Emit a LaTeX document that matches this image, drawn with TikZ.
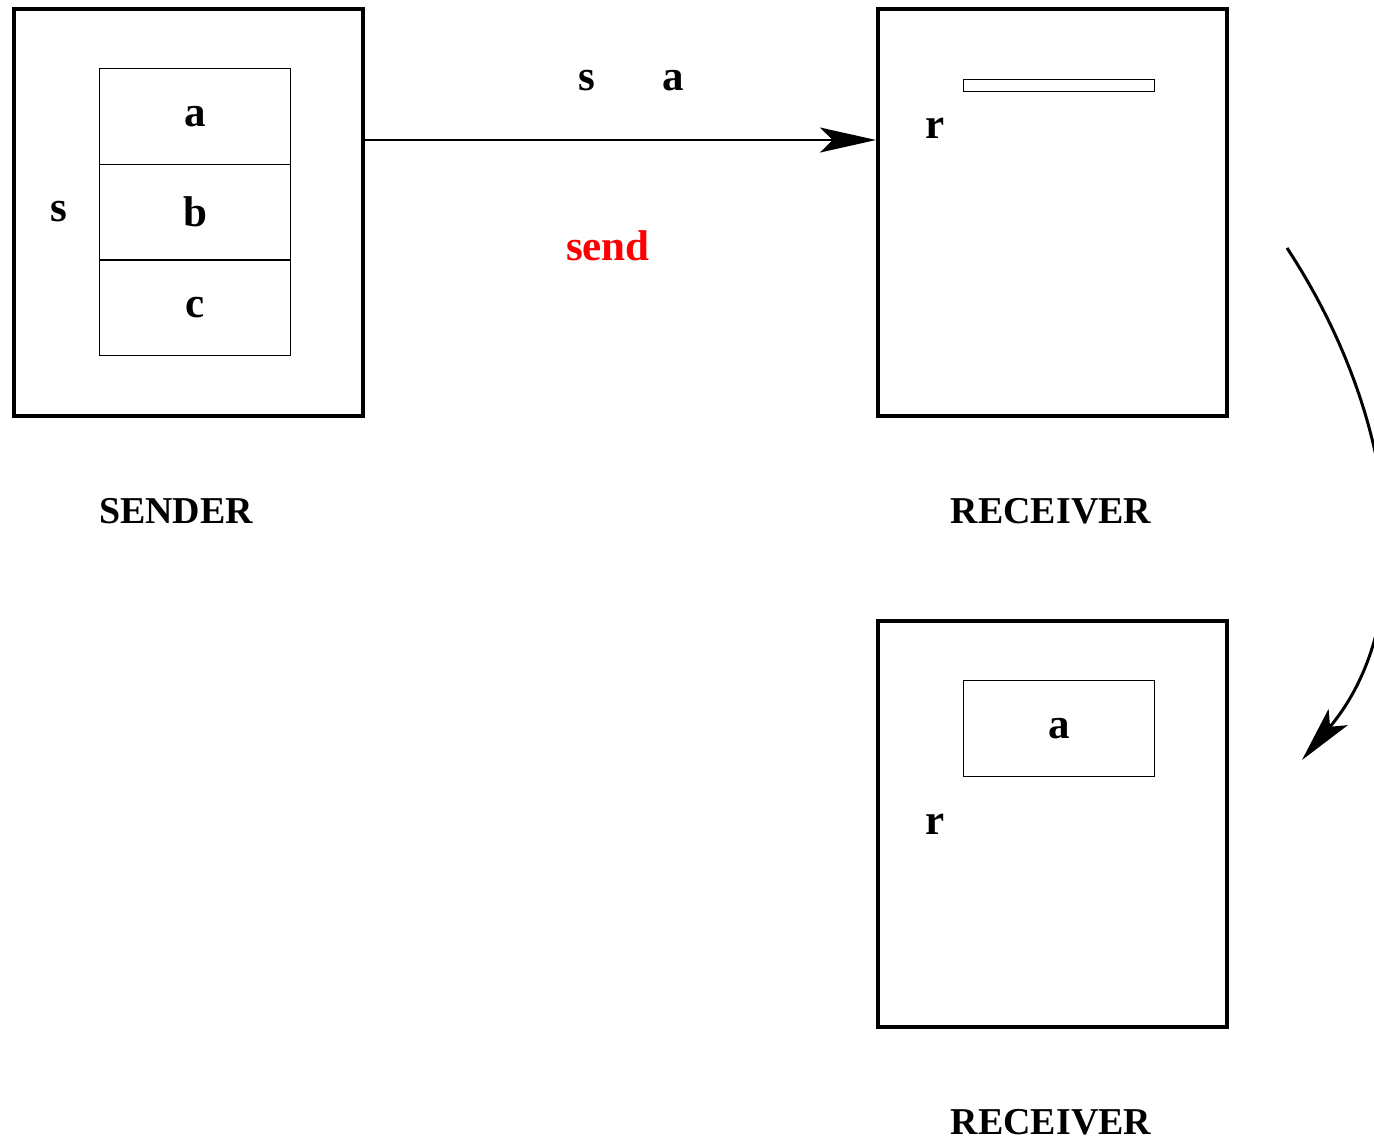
\documentclass[tikz,border=0pt]{standalone}
\usepackage{fontspec}
\setmainfont{Liberation Serif}
\usepackage{tikz}
\usetikzlibrary{arrows.meta,positioning,calc}
\tikzset{outerbox/.style={draw, line width=0.08cm, minimum width=6.98cm, minimum height=8.14cm, inner sep=0pt},
cell/.style={draw, line width=0.02cm, minimum width=3.84cm, minimum height=1.92cm, inner sep=0pt},
lbl/.style={inner sep=0pt, font=\fontsize{24.5}{29}\selectfont\bfseries},
caption/.style={inner sep=0pt, font=\fontsize{21.6}{26}\selectfont\bfseries},
flow/.style={line width=0.04cm, -{Stealth[length=1.12cm, width=0.5cm, inset=0.25cm]}}}

\begin{document}
\begin{tikzpicture}[x=0.02cm, y=-0.02cm]
        \useasboundingbox (0,0) rectangle (1374,1142);
        % boxes
        \node[outerbox] (sender) at (188.5, 212.5) {};
        \node[outerbox] (rec1) at (1052.5, 212.5) {};
        \node[outerbox] (rec2) at (1052.5, 824) {};

        \node[cell, lbl] (ca) at (195, 116.5) {a};
        \node[cell, lbl] (cb) at (195, 212) {b};
        \node[cell, lbl] (cc) at (195, 308) {c};

        \node[draw, line width=0.02cm, minimum width=3.84cm, minimum height=0.24cm, inner sep=0pt] (slot) at (1059, 86) {};
        \node[cell, lbl] (got) at (1059, 728.5) {a};

        % labels
        \node[lbl] (s0) at (59, 212) {s};
        \node[lbl] (s1) at (587, 81) {s};
        \node[lbl] (a1) at (673, 81) {a};
        \node[lbl, text=red] (send) at (608, 246) {send};
        \node[lbl] (r1) at (935, 128) {r};
        \node[lbl] (r2) at (935, 824) {r};
        \node[caption] (sname) at (176, 511) {SENDER};
        \node[caption] (rname1) at (1051, 511) {RECEIVER};
        \node[caption] (rname2) at (1051, 1122) {RECEIVER};

        \coordinate (bend0) at (1287, 248);
        \coordinate (bend1) at (1302, 760);

        \draw[flow] ([yshift=1.45cm]sender.east) -- ([yshift=1.45cm]rec1.west);
        \begin{scope}
        \clip (0,0) rectangle (1374,1142);
        \draw[flow, line width=0.06cm] (bend0) .. controls (1400, 420) and (1420, 620) .. (bend1);
        \end{scope}
    \end{tikzpicture}
\end{document}
